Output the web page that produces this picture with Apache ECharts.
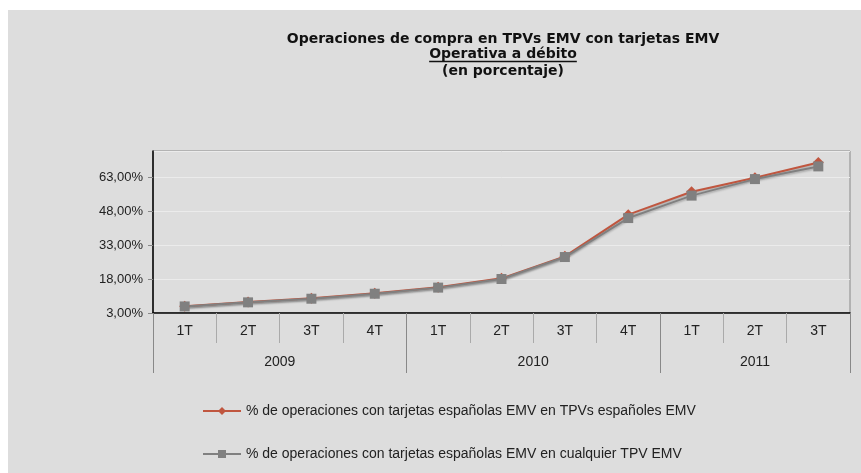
<!DOCTYPE html>
<html>
<head>
<meta charset="utf-8">
<script src="https://cdn.jsdelivr.net/npm/echarts@6/dist/echarts.min.js"></script>
<style>
    html, body { margin: 0; padding: 0; background: #fff; }
    #main {
        width: 861px; height: 473px;
        background: linear-gradient(#dddddd, #dddddd) 8px 10px / 853px 463px no-repeat, #ffffff;
    }
</style>
</head>
<body>
<div id="main"></div>
<script>
// datos
var quarters = ['1T', '2T', '3T', '4T', '1T', '2T', '3T', '4T', '1T', '2T', '3T'];
var years = ['2009', '2010', '2011'];
var quartersPerYear = [4, 4, 3];
var tpvEspanoles = [6.0, 7.9, 9.5, 11.7, 14.4, 18.3, 28.0, 46.4, 56.5, 62.7, 69.4];
var cualquierTpv = [5.9, 7.7, 9.3, 11.5, 14.2, 18.0, 27.7, 44.9, 54.8, 62.1, 67.7];
var serieNames = [
    '% de operaciones con tarjetas españolas EMV en TPVs españoles EMV',
    '% de operaciones con tarjetas españolas EMV en cualquier TPV EMV'
];
var titleLines = ['Operaciones de compra en TPVs EMV con tarjetas EMV', 'Operativa a débito', '(en porcentaje)'];

var font = '"Liberation Sans", Arial, sans-serif';
var titleFont = 'bold 14px "DejaVu Sans", sans-serif';

// separadores y posiciones de los años
var yearBounds = [0];
var yearCenters = [];
for (var i = 0; i < quartersPerYear.length; i++) {
    var start = yearBounds[yearBounds.length - 1];
    yearBounds.push(start + quartersPerYear[i]);
    yearCenters.push(start + quartersPerYear[i] / 2);
}

function measure(text, f) {
    var c = document.createElement('canvas').getContext('2d');
    c.font = f;
    return c.measureText(text).width;
}

var titleX = 503;
var underlineW = measure(titleLines[1], titleFont);

var myChart = echarts.init(document.getElementById('main'));
myChart.setOption({
    animation: false,
    textStyle: { fontFamily: font },
    graphic: [
        { type: 'text', x: titleX, y: 39, style: { text: titleLines[0], font: titleFont, fill: '#111', align: 'center', verticalAlign: 'middle' } },
        { type: 'text', x: titleX, y: 54, style: { text: titleLines[1], font: titleFont, fill: '#111', align: 'center', verticalAlign: 'middle' } },
        { type: 'line', shape: { x1: titleX - underlineW / 2, y1: 61.5, x2: titleX + underlineW / 2, y2: 61.5 }, style: { stroke: '#111', lineWidth: 1.3 } },
        { type: 'text', x: titleX, y: 71, style: { text: titleLines[2], font: titleFont, fill: '#111', align: 'center', verticalAlign: 'middle' } }
    ],
    grid: {
        left: 153, right: 11, top: 151, bottom: 160,
        show: true, borderColor: '#888', borderWidth: 1, backgroundColor: 'transparent'
    },
    legend: {
        orient: 'vertical',
        left: 197, top: 399,
        itemGap: 29,
        itemWidth: 38, itemHeight: 10,
        textStyle: { fontSize: 14, color: '#222', fontFamily: font },
        data: serieNames
    },
    xAxis: [{
        type: 'category',
        data: quarters,
        boundaryGap: true,
        axisLine: { lineStyle: { color: '#000', width: 1.5 } },
        axisTick: { show: true, interval: 0, length: 30, lineStyle: { color: '#aaa' } },
        axisLabel: { interval: 0, margin: 11, fontSize: 14, color: '#222' }
    }, {
        type: 'value',
        position: 'bottom',
        min: 0, max: quarters.length,
        axisLine: { show: false },
        splitLine: { show: false },
        axisTick: { show: true, length: 60, customValues: yearBounds, lineStyle: { color: '#888' } },
        axisLabel: {
            customValues: yearCenters, margin: 42, fontSize: 14, color: '#222',
            formatter: function (v) { return years[yearCenters.indexOf(v)]; }
        }
    }],
    yAxis: {
        type: 'value',
        min: 3, max: 74.5, interval: 15,
        axisLine: { show: true, lineStyle: { color: '#000', width: 1.5 } },
        axisTick: { show: true, length: 5, lineStyle: { color: '#888' } },
        splitLine: { lineStyle: { color: '#ebebeb' } },
        axisLabel: {
            showMaxLabel: false, margin: 10, fontSize: 13, color: '#222',
            formatter: function (v) { return v.toFixed(2).replace('.', ',') + '%'; }
        }
    },
    series: [{
        name: serieNames[0],
        type: 'line',
        data: tpvEspanoles,
        symbol: 'diamond', symbolSize: 11,
        lineStyle: { color: '#c0563f', width: 2, shadowColor: 'rgba(0,0,0,0.25)', shadowBlur: 2, shadowOffsetY: 1.5 },
        itemStyle: { color: '#c0563f' }
    }, {
        name: serieNames[1],
        type: 'line',
        data: cualquierTpv,
        symbol: 'rect', symbolSize: 10,
        lineStyle: { color: '#808080', width: 2, shadowColor: 'rgba(0,0,0,0.25)', shadowBlur: 2, shadowOffsetY: 1.5 },
        itemStyle: { color: '#808080' }
    }]
});
</script>
</body>
</html>
